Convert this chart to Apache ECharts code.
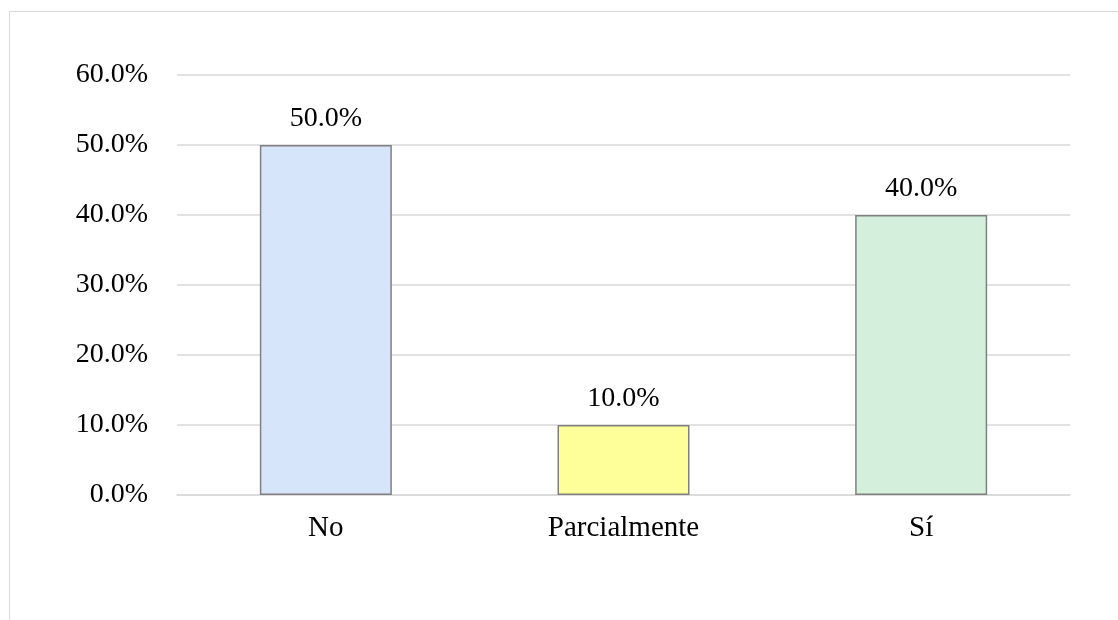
<!DOCTYPE html>
<html>
<head>
<meta charset="utf-8">
<script src="https://cdn.jsdelivr.net/npm/echarts@6/dist/echarts.min.js"></script>
<style>
html,body{margin:0;padding:0;background:#fff;overflow:hidden;}
#frame{position:absolute;left:9px;top:11px;width:1200px;height:700px;border:1px solid #d9d9d9;box-sizing:border-box;}
#chart{position:absolute;left:0;top:0;width:1118px;height:620px;}
</style>
</head>
<body>
<div id="frame"></div>
<div id="chart"></div>
<script>
const categories = ['No', 'Parcialmente', 'Sí'];
const values = [50.0, 10.0, 40.0];
const colors = ['#d7e5fb', '#ffff99', '#d4f0dc'];
const yTicks = [0, 10, 20, 30, 40, 50, 60];

const chart = echarts.init(document.getElementById('chart'));
const font = 'Liberation Serif';
chart.setOption({
  animation: false,
  grid: {left: 177, right: 48, top: 75, bottom: 125},
  xAxis: {
    type: 'category',
    data: categories,
    axisLine: {show: true, lineStyle: {color: '#d9d9d9', width: 1.5}},
    axisTick: {show: false},
    axisLabel: {color: '#000', fontFamily: font, fontSize: 29, margin: 19}
  },
  yAxis: {
    type: 'value',
    min: yTicks[0],
    max: yTicks[yTicks.length - 1],
    interval: 10,
    axisLine: {show: false},
    axisTick: {show: false},
    splitLine: {lineStyle: {color: '#d9d9d9', width: 1.5}},
    axisLabel: {color: '#000', fontFamily: font, fontSize: 28, margin: 29,
      formatter: v => v.toFixed(1) + '%'}
  },
  series: [{
    type: 'bar',
    barWidth: 132,
    data: values.map((v, i) => ({value: v, itemStyle: {color: colors[i]}})),
    itemStyle: {borderColor: '#808080', borderWidth: 1.5},
    label: {show: true, position: 'top', distance: 12, color: '#000', fontFamily: font, fontSize: 28,
      formatter: p => p.value.toFixed(1) + '%'}
  }]
});
</script>
</body>
</html>
